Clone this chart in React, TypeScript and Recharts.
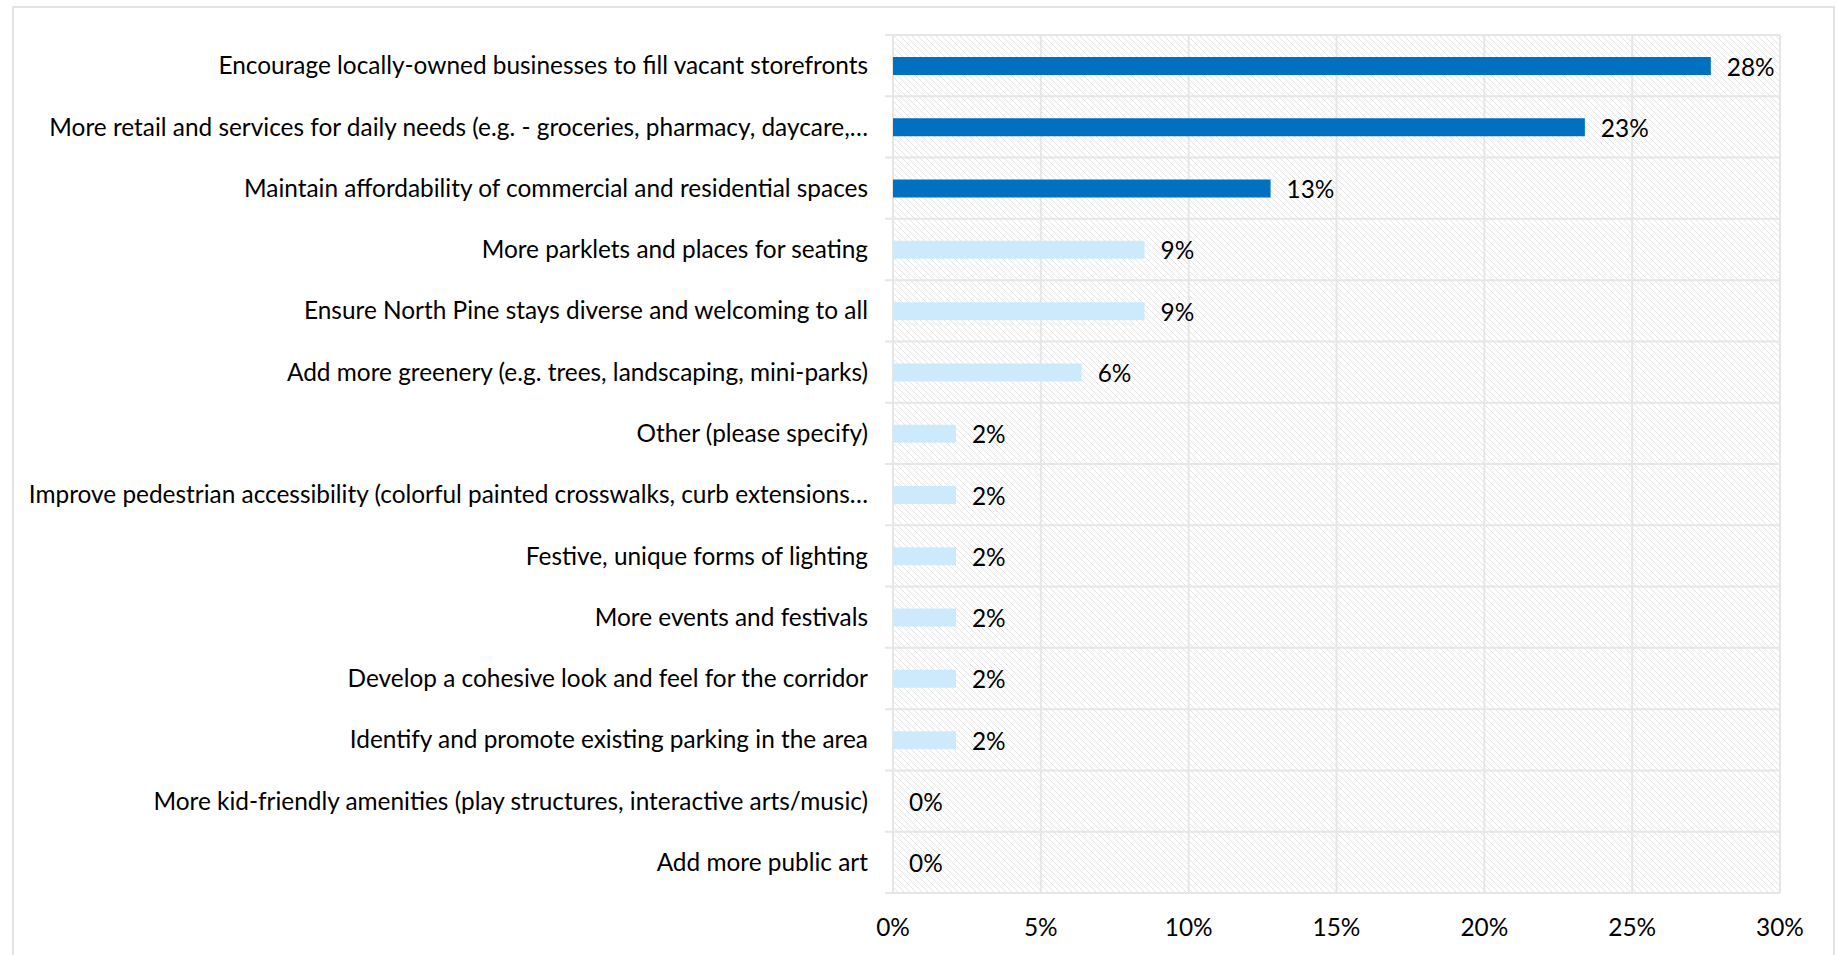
import React from "react";
import { Bar, BarChart, CartesianGrid, Cell, LabelList, XAxis, YAxis } from "recharts";

// survey answers, top to bottom
const CATEGORIES = [
  "Encourage locally-owned businesses to fill vacant storefronts",
  "More retail and services for daily needs (e.g. - groceries, pharmacy, daycare,…",
  "Maintain affordability of commercial and residential spaces",
  "More parklets and places for seating",
  "Ensure North Pine stays diverse and welcoming to all",
  "Add more greenery (e.g. trees, landscaping, mini-parks)",
  "Other (please specify)",
  "Improve pedestrian accessibility (colorful painted crosswalks, curb extensions…",
  "Festive, unique forms of lighting",
  "More events and festivals",
  "Develop a cohesive look and feel for the corridor",
  "Identify and promote existing parking in the area",
  "More kid-friendly amenities (play structures, interactive arts/music)",
  "Add more public art",
];

// share of responses, %
const SHARES = [27.66, 23.4, 12.77, 8.51, 8.51, 6.38, 2.13, 2.13, 2.13, 2.13, 2.13, 2.13, 0, 0];

const X_TICKS = [0, 5, 10, 15, 20, 25, 30];

const TOP_PICKS = 3;
const DARK = "#0070C0";
const LIGHT = "#CCEAFB";
const GRID = "#e6e6e6";
const FONT = "Lato, 'Open Sans', sans-serif";
const FONT_SIZE = 24.4;

const data = CATEGORIES.map((label, i) => ({ label, value: SHARES[i] }));

function ValueLabel(props: any) {
  const { x, y, width, height, value } = props;
  return (
    <text
      x={x + width + 16}
      y={y + height / 2}
      dominantBaseline="central"
      fontSize={FONT_SIZE}
      fontFamily={FONT}
      fill="#000"
    >
      {`${Math.round(value)}%`}
    </text>
  );
}

export default function App() {
  return (
    <div style={{ position: "fixed", left: 0, top: 0, width: 1837, height: 955, overflow: "hidden", background: "#fff" }}>
      <div
        style={{
          position: "absolute",
          left: 12,
          top: 6,
          width: 1819,
          height: 980,
          border: "2px solid #e3e3e3",
        }}
      />
      <div style={{ position: "absolute", left: 0, top: 0 }}>
        <BarChart
          width={1837}
          height={955}
          data={data}
          layout="vertical"
          margin={{ top: 35, right: 57, bottom: 22, left: 0 }}
        >
          <defs>
            <pattern id="hatch" width="6" height="6" patternUnits="userSpaceOnUse">
              <rect width="6" height="6" fill="#fff" />
              <path d="M0,0 L6,6 M-3,3 L0,6 M3,-3 L6,0" stroke="#e0e0e0" strokeWidth={0.9} />
            </pattern>
          </defs>
          <CartesianGrid
            fill="url(#hatch)"
            stroke={GRID}
            strokeWidth={2}
            horizontalCoordinatesGenerator={({ offset }: any) => {
              const step = offset.height / CATEGORIES.length;
              return CATEGORIES.map((_, i) => offset.top + i * step).concat(offset.top + offset.height);
            }}
            horizontal={(p: any) => (
              <line
                key={p.key ?? `h-${p.y1}`}
                x1={p.x1 - 8}
                x2={p.x2}
                y1={p.y1}
                y2={p.y2}
                stroke={GRID}
                strokeWidth={2}
              />
            )}
          />
          <XAxis
            type="number"
            domain={[0, 30]}
            ticks={X_TICKS}
            tickFormatter={(v: number) => `${v}%`}
            tickLine={false}
            axisLine={false}
            tickSize={0}
            tickMargin={26}
            height={40}
            tick={{ fontSize: FONT_SIZE, fill: "#000", fontFamily: FONT }}
          />
          <YAxis
            type="category"
            dataKey="label"
            width={893}
            tickLine={false}
            axisLine={false}
            tickSize={0}
            tickMargin={25}
            interval={0}
            tick={{ fontSize: FONT_SIZE, fill: "#000", fontFamily: FONT }}
          />
          <Bar dataKey="value" barSize={18} minPointSize={0.01} isAnimationActive={false}>
            {data.map((d, i) => (
              <Cell key={d.label} fill={i < TOP_PICKS ? DARK : LIGHT} />
            ))}
            <LabelList dataKey="value" content={ValueLabel} />
          </Bar>
        </BarChart>
      </div>
    </div>
  );
}
